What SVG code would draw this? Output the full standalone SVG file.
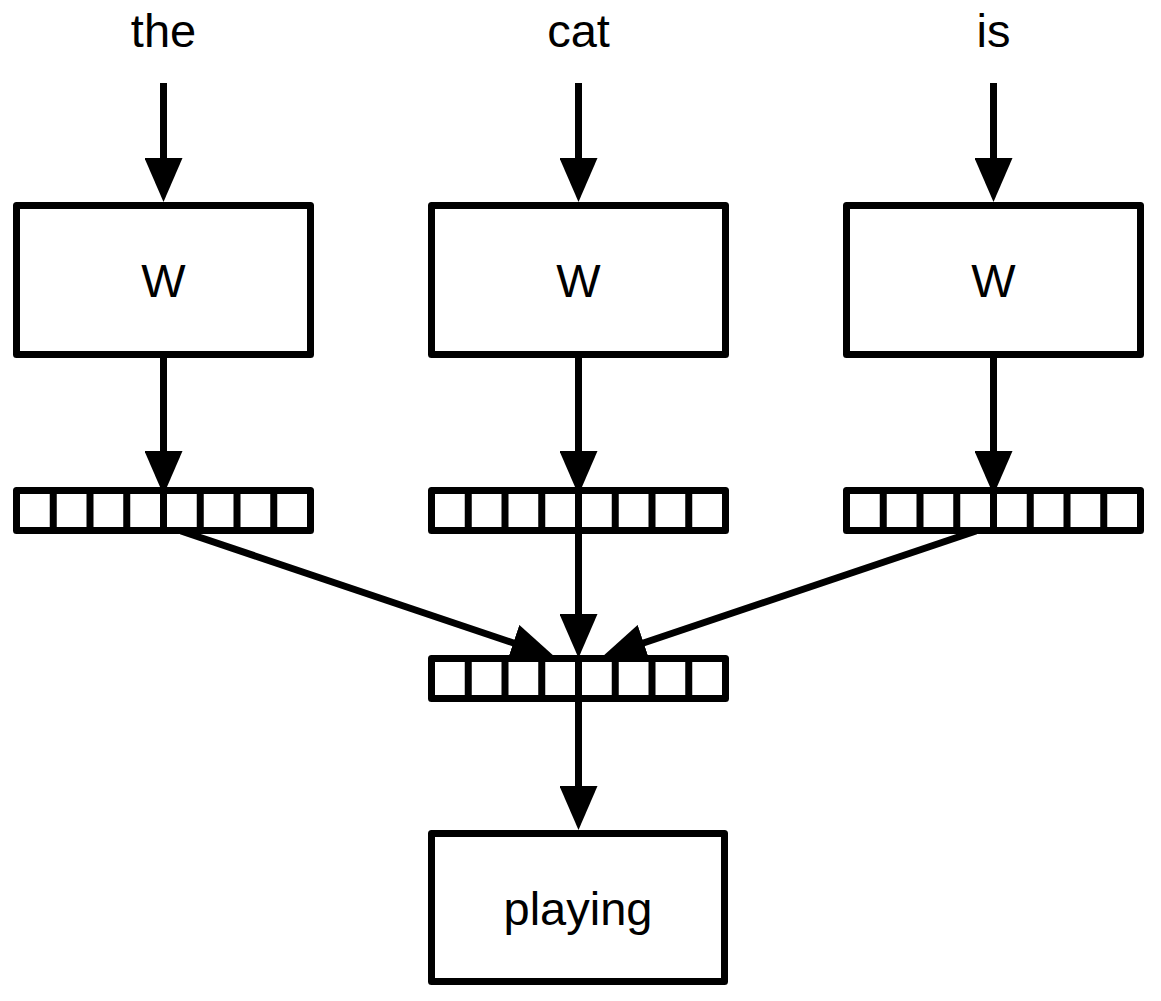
<svg xmlns="http://www.w3.org/2000/svg" width="1161" height="1001" viewBox="0 0 1161 1001">
<style>
.box{fill:#fff;stroke:#000;stroke-width:7;stroke-linejoin:round}
.div{stroke:#000;stroke-width:7}
.lbl{font-family:"Liberation Sans",Arial,sans-serif;font-size:47px;fill:#000;text-anchor:middle}
.conn{stroke:#000;stroke-width:7;fill:none;marker-end:url(#ah)}
</style>
<defs>
<marker id="ah" markerUnits="userSpaceOnUse" markerWidth="44" markerHeight="38" refX="34" refY="19" orient="auto">
<path d="M0,0 L44,19 L0,38 z" fill="#000"/>
</marker>
</defs>
<rect width="1161" height="1001" fill="#fff"/>
<g id="word-the"><text class="lbl" x="163.5" y="47">the</text></g>
<g id="word-cat"><text class="lbl" x="578.5" y="47">cat</text></g>
<g id="word-is"><text class="lbl" x="993.5" y="47">is</text></g>
<g id="W1"><rect class="box" x="16.5" y="205.5" width="294" height="149"/><text class="lbl" x="163.5" y="297">W</text></g>
<g id="W2"><rect class="box" x="431.5" y="205.5" width="294" height="149"/><text class="lbl" x="578.5" y="297">W</text></g>
<g id="W3"><rect class="box" x="846.5" y="205.5" width="294" height="149"/><text class="lbl" x="993.5" y="297">W</text></g>
<g id="vec1"><rect class="box" x="16.5" y="490.5" width="294" height="40"/>
<path class="div" d="M53.25,490.5V530.5M90,490.5V530.5M126.75,490.5V530.5M163.5,490.5V530.5M200.25,490.5V530.5M237,490.5V530.5M273.75,490.5V530.5"/></g>
<g id="vec2"><rect class="box" x="431.5" y="490.5" width="294" height="40"/>
<path class="div" d="M468.25,490.5V530.5M505,490.5V530.5M541.75,490.5V530.5M578.5,490.5V530.5M615.25,490.5V530.5M652,490.5V530.5M688.75,490.5V530.5"/></g>
<g id="vec3"><rect class="box" x="846.5" y="490.5" width="294" height="40"/>
<path class="div" d="M883.25,490.5V530.5M920,490.5V530.5M956.75,490.5V530.5M993.5,490.5V530.5M1030.25,490.5V530.5M1067,490.5V530.5M1103.75,490.5V530.5"/></g>
<g id="vecC"><rect class="box" x="431.5" y="658.5" width="294" height="40"/>
<path class="div" d="M468.25,658.5V698.5M505,658.5V698.5M541.75,658.5V698.5M578.5,658.5V698.5M615.25,658.5V698.5M652,658.5V698.5M688.75,658.5V698.5"/></g>
<g id="playing"><rect class="box" x="431.5" y="833.5" width="293" height="148"/><text class="lbl" x="578" y="925">playing</text></g>
<g id="connectors">
<line class="conn" x1="163.5" y1="83" x2="163.5" y2="192"/>
<line class="conn" x1="578.5" y1="83" x2="578.5" y2="192"/>
<line class="conn" x1="993.5" y1="83" x2="993.5" y2="192"/>
<line class="conn" x1="163.5" y1="358" x2="163.5" y2="485"/>
<line class="conn" x1="578.5" y1="358" x2="578.5" y2="485"/>
<line class="conn" x1="993.5" y1="358" x2="993.5" y2="485"/>
<line class="conn" x1="181" y1="531" x2="545.5" y2="653.8"/>
<line class="conn" x1="578.5" y1="534" x2="578.5" y2="648"/>
<line class="conn" x1="976" y1="531" x2="611.5" y2="653.8"/>
<line class="conn" x1="578.5" y1="702" x2="578.5" y2="820"/>
</g>
</svg>
